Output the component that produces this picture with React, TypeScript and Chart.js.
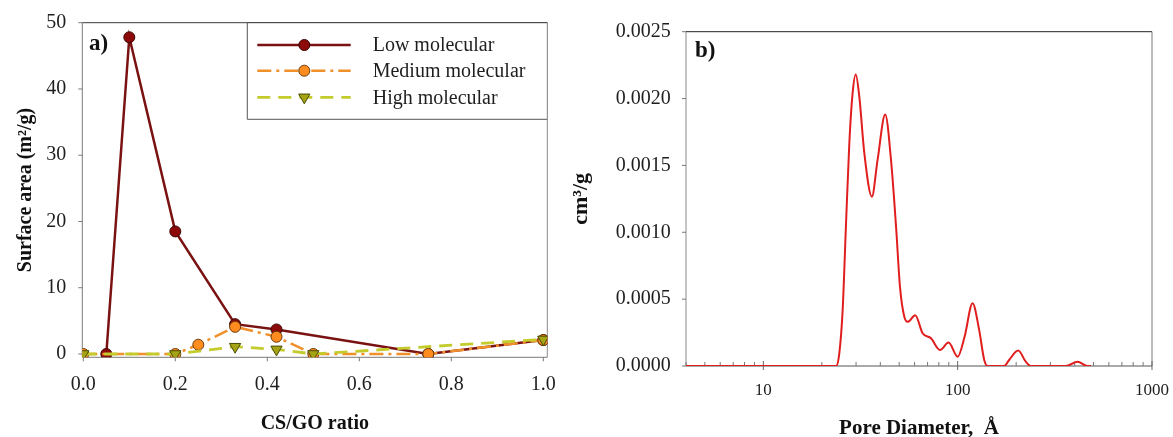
import React, { useEffect, useRef } from 'react';
import { Chart, registerables } from 'chart.js';

Chart.register(...registerables);

// ---------- Panel a) data ----------
const ratioLow = [0.05, 0.1, 0.2, 0.33, 0.42, 0.75, 1.0];
const areaLow = [0, 47.8, 18.5, 4.5, 3.7, 0, 2.1];
const ratioMedium = [0, 0.2, 0.25, 0.33, 0.42, 0.5, 0.75, 1.0];
const areaMedium = [0, 0, 1.4, 4.1, 2.6, 0, 0, 2.1];
const ratioHigh = [0, 0.2, 0.33, 0.42, 0.5, 1.0];
const areaHigh = [0, 0, 1.1, 0.7, 0, 2.2];
const seriesNames = ['Low molecular', 'Medium molecular', 'High molecular'];
const xTicksA = [0, 0.2, 0.4, 0.6, 0.8, 1.0];
const yTicksA = [0, 10, 20, 30, 40, 50];

// ---------- Panel b) data ----------
const poreDiameter = [4, 10, 20, 23.7, 24.6, 25.6, 26.6, 27.7, 28.8, 29.9, 31.2, 33.1, 36.2, 38.7, 42.4, 45.4, 48.2, 50.5, 53.1, 55.3, 60.5, 66, 72.9, 81.1, 89.8, 100, 108.6, 119.3, 129, 137, 142.6, 173.7, 184, 205, 224, 238, 360, 414, 466, 485];
const poreVolume = [0, 0, 0, 0, 0.000095, 0.00042, 0.00104, 0.001666, 0.00204, 0.00218, 0.00201, 0.00159, 0.001266, 0.00154, 0.00188, 0.00154, 0.00104, 0.00059, 0.00037, 0.00033, 0.00038, 0.000245, 0.000207, 0.00012, 0.000175, 0.00007, 0.00022, 0.00047, 0.00027, 0.000045, 0, 0, 0.000045, 0.000115, 0.000032, 0, 0, 0.000032, 0, 0];
const xTicksB = [4, 5, 6, 7, 8, 9, 10, 20, 30, 40, 50, 60, 70, 80, 90, 100, 200, 300, 400, 500, 600, 700, 800, 900, 1000];
const xMajorB = [10, 100, 1000];
const yTicksB = [0, 0.0005, 0.001, 0.0015, 0.002, 0.0025];

const SERIF = "'Liberation Serif', 'Times New Roman', serif";
const TEXT = '#1e1e1e';

function fixAxis(size: number, horizontal: boolean) {
  return (s: any) => {
    if (horizontal) s.height = size; else s.width = size;
    s.paddingTop = 0; s.paddingBottom = 0; s.paddingLeft = 0; s.paddingRight = 0;
  };
}

function setTicks(values: number[]) {
  return (s: any) => { s.ticks = values.map((v) => ({ value: v })); };
}

function drawMarker(ctx: CanvasRenderingContext2D, style: string, x: number, y: number, r: number, fill: string, stroke: string) {
  ctx.beginPath();
  if (style === 'circle') {
    ctx.arc(x, y, r, 0, Math.PI * 2);
  } else {
    ctx.moveTo(x, y + r);
    ctx.lineTo(x - 0.866 * r, y - 0.5 * r);
    ctx.lineTo(x + 0.866 * r, y - 0.5 * r);
    ctx.closePath();
  }
  ctx.fillStyle = fill;
  ctx.fill();
  ctx.lineWidth = 1;
  ctx.strokeStyle = stroke;
  ctx.stroke();
}

function seg(ctx: CanvasRenderingContext2D, x1: number, y1: number, x2: number, y2: number, color: string) {
  ctx.strokeStyle = color;
  ctx.lineWidth = 1;
  ctx.beginPath();
  ctx.moveTo(x1, y1);
  ctx.lineTo(x2, y2);
  ctx.stroke();
}

export default function App() {
  const leftRef = useRef<HTMLCanvasElement>(null);
  const rightRef = useRef<HTMLCanvasElement>(null);

  useEffect(() => {
    const lowColor = '#7a1212';
    const medColor = '#f0902a';
    const highColor = '#c3cc2c';

    const framePluginA = {
      id: 'frameA',
      beforeDatasetsDraw(chart: any) {
        const { ctx, chartArea: a, scales } = chart;
        ctx.save();
        seg(ctx, a.left, a.top, a.right, a.top, '#3a3a3a');
        seg(ctx, a.right, a.top, a.right, a.bottom, '#8a8a8a');
        seg(ctx, a.left, a.bottom, a.right, a.bottom, '#7a7a7a');
        seg(ctx, a.left, a.top, a.left, a.bottom, '#7a7a7a');
        xTicksA.forEach((v) => {
          const px = scales.x.getPixelForValue(v);
          seg(ctx, px, a.bottom, px, a.bottom + 4, '#7a7a7a');
        });
        yTicksA.forEach((v) => {
          const py = scales.y.getPixelForValue(v);
          seg(ctx, a.left - 4, py, a.left, py, '#7a7a7a');
        });
        ctx.fillStyle = '#111';
        ctx.font = `bold 23px ${SERIF}`;
        ctx.textAlign = 'left';
        ctx.textBaseline = 'alphabetic';
        ctx.fillText('a)', 89, 49.5);
        ctx.restore();
      },
      afterDatasetsDraw(chart: any) {
        const { ctx, chartArea: a } = chart;
        ctx.save();
        const bx = 247.3, by = a.top, bw = a.right - 247.3, bh = 119.3 - a.top;
        ctx.fillStyle = '#ffffff';
        ctx.fillRect(bx, by, bw, bh);
        seg(ctx, bx, by, bx + bw, by, '#3a3a3a');
        seg(ctx, bx, by, bx, by + bh, '#555');
        seg(ctx, bx, by + bh, bx + bw, by + bh, '#555');
        seg(ctx, bx + bw, by, bx + bw, by + bh, '#8a8a8a');
        const rows = [45, 70.7, 97.3];
        chart.data.datasets.forEach((ds: any, i: number) => {
          const y = rows[i];
          ctx.save();
          ctx.strokeStyle = ds.borderColor;
          ctx.lineWidth = ds.borderWidth;
          ctx.setLineDash(ds.borderDash || []);
          ctx.beginPath();
          ctx.moveTo(257.3, y);
          ctx.lineTo(350.7, y);
          ctx.stroke();
          ctx.restore();
          drawMarker(ctx, ds.pointStyle === 'triangle' ? 'tri' : 'circle', 304.3, y, ds.pointRadius, ds.pointBackgroundColor, ds.pointBorderColor);
          ctx.fillStyle = TEXT;
          ctx.font = `20px ${SERIF}`;
          ctx.textAlign = 'left';
          ctx.textBaseline = 'middle';
          ctx.fillText(ds.label, 372.7, y + 1);
        });
        ctx.restore();
      },
    };

    const chartA = new Chart(leftRef.current as HTMLCanvasElement, {
      type: 'line',
      data: {
        datasets: [
          {
            label: seriesNames[0],
            data: ratioLow.map((x, i) => ({ x, y: areaLow[i] })),
            borderColor: lowColor,
            borderWidth: 2.5,
            pointStyle: 'circle',
            pointRadius: 5.5,
            pointBackgroundColor: '#8c0a0a',
            pointBorderColor: '#3a0505',
            pointBorderWidth: 1,
            order: 3,
          },
          {
            label: seriesNames[1],
            data: ratioMedium.map((x, i) => ({ x, y: areaMedium[i] })),
            borderColor: medColor,
            borderWidth: 2.5,
            borderDash: [14, 5, 3, 5],
            pointStyle: 'circle',
            pointRadius: 5.5,
            pointBackgroundColor: '#ff8c1e',
            pointBorderColor: '#6b3a08',
            pointBorderWidth: 1,
            order: 2,
          },
          {
            label: seriesNames[2],
            data: ratioHigh.map((x, i) => ({ x, y: areaHigh[i] })),
            borderColor: highColor,
            borderWidth: 2.8,
            borderDash: [13, 8],
            pointStyle: 'triangle',
            rotation: 180,
            pointRotation: 180,
            pointRadius: 6.5,
            pointBackgroundColor: '#a4a414',
            pointBorderColor: '#4a4a05',
            pointBorderWidth: 1,
            order: 1,
          },
        ] as any,
      },
      options: {
        animation: false,
        responsive: false,
        devicePixelRatio: 1,
        layout: { padding: { left: 0, top: 22.7, right: 560 - 547.3, bottom: 0 } },
        plugins: { legend: { display: false }, tooltip: { enabled: false } },
        elements: { line: { tension: 0 } },
        scales: {
          x: {
            type: 'linear',
            min: -0.0022,
            max: 1.0087,
            afterBuildTicks: setTicks(xTicksA),
            afterFit: fixAxis(437 - 357.3, true),
            grid: { display: false, drawTicks: false, tickLength: 0 },
            border: { display: false },
            ticks: {
              padding: 15.5,
              color: TEXT,
              font: { family: SERIF, size: 20 },
              maxRotation: 0,
              callback: (v: any) => Number(v).toFixed(1),
            },
            title: {
              display: true,
              text: 'CS/GO ratio',
              color: '#111',
              font: { family: SERIF, size: 20, weight: 'bold', lineHeight: '27px' },
              padding: 0,
            },
          },
          y: {
            type: 'linear',
            min: -0.5,
            max: 50,
            afterBuildTicks: setTicks(yTicksA),
            afterFit: fixAxis(82.3, false),
            grid: { display: false, drawTicks: false, tickLength: 0 },
            border: { display: false },
            ticks: {
              padding: 16,
              color: TEXT,
              font: { family: SERIF, size: 20 },
              callback: (v: any) => String(v),
            },
            title: {
              display: true,
              text: 'Surface area (m²/g)',
              color: '#111',
              font: { family: SERIF, size: 20, weight: 'bold', lineHeight: '52px' },
              padding: 0,
            },
          },
        },
      } as any,
      plugins: [framePluginA],
    });

    const framePluginB = {
      id: 'frameB',
      beforeDatasetsDraw(chart: any) {
        const { ctx, chartArea: a, scales } = chart;
        ctx.save();
        seg(ctx, a.left, a.top, a.right, a.top, '#222');
        seg(ctx, a.right, a.top, a.right, a.bottom, '#7a7a7a');
        seg(ctx, a.left, a.bottom, a.right, a.bottom, '#555');
        seg(ctx, a.left, a.top, a.left, a.bottom, '#8a8a8a');
        xTicksB.forEach((v) => {
          const px = scales.x.getPixelForValue(v);
          if (xMajorB.includes(v)) seg(ctx, px, a.bottom - 5, px, a.bottom + 4, '#666');
          else seg(ctx, px, a.bottom - 4, px, a.bottom, '#777');
        });
        yTicksB.forEach((v) => {
          const py = scales.y.getPixelForValue(v);
          seg(ctx, a.left - 4, py, a.left, py, '#777');
        });
        ctx.fillStyle = '#111';
        ctx.font = `bold 23px ${SERIF}`;
        ctx.textAlign = 'left';
        ctx.textBaseline = 'alphabetic';
        ctx.fillText('b)', 695 - 560, 57);
        ctx.restore();
      },
    };

    const chartB = new Chart(rightRef.current as HTMLCanvasElement, {
      type: 'line',
      data: {
        datasets: [
          {
            label: 'Pore volume',
            data: poreDiameter.map((x, i) => ({ x, y: poreVolume[i] })),
            borderColor: '#e01e1e',
            borderWidth: 2,
            pointRadius: 0,
            cubicInterpolationMode: 'monotone',
            tension: 0.4,
          },
        ] as any,
      },
      options: {
        animation: false,
        responsive: false,
        devicePixelRatio: 1,
        layout: { padding: { left: 0, top: 31.7, right: 613 - 592, bottom: 0 } },
        plugins: { legend: { display: false }, tooltip: { enabled: false } },
        scales: {
          x: {
            type: 'logarithmic',
            min: 4,
            max: 1000,
            afterBuildTicks: setTicks(xTicksB),
            afterFit: fixAxis(437 - 366, true),
            grid: { display: false, drawTicks: false, tickLength: 0 },
            border: { display: false },
            ticks: {
              padding: 14.8,
              color: TEXT,
              autoSkip: false,
              maxRotation: 0,
              font: { family: SERIF, size: 17 },
              callback: (v: any) => (xMajorB.includes(Number(v)) ? String(v) : ''),
            },
            title: {
              display: true,
              text: 'Pore Diameter,  Å',
              color: '#111',
              font: { family: SERIF, size: 21, weight: 'bold', lineHeight: '17px' },
              padding: 0,
            },
          },
          y: {
            type: 'linear',
            min: 0,
            max: 0.0025,
            afterBuildTicks: setTicks(yTicksB),
            afterFit: fixAxis(686 - 560, false),
            grid: { display: false, drawTicks: false, tickLength: 0 },
            border: { display: false },
            ticks: {
              padding: 15.3,
              color: TEXT,
              font: { family: SERIF, size: 20 },
              callback: (v: any) => Number(v).toFixed(4),
            },
            title: {
              display: true,
              text: 'cm³/g',
              color: '#111',
              font: { family: SERIF, size: 22, weight: 'bold', lineHeight: '43px' },
              padding: 0,
            },
          },
        },
      } as any,
      plugins: [framePluginB],
    });

    return () => {
      chartA.destroy();
      chartB.destroy();
    };
  }, []);

  return (
    <div style={{ position: 'absolute', left: 0, top: 0, width: 1173, height: 437, background: '#ffffff' }}>
      <canvas ref={leftRef} width={560} height={437} style={{ position: 'absolute', left: 0, top: 0, width: 560, height: 437 }} />
      <canvas ref={rightRef} width={613} height={437} style={{ position: 'absolute', left: 560, top: 0, width: 613, height: 437 }} />
    </div>
  );
}
